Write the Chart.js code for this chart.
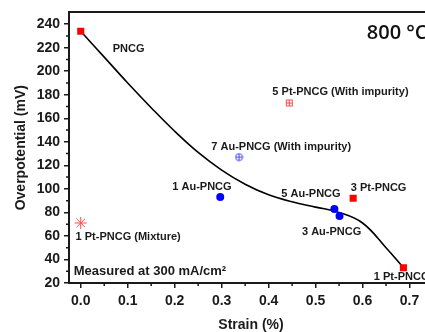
<!DOCTYPE html>
<html>
<head>
<meta charset="utf-8">
<script src="https://cdn.jsdelivr.net/npm/chart.js@4.4.0/dist/chart.umd.min.js"></script>
<style>
    html, body { margin: 0; padding: 0; background: #fff; overflow: hidden; }
    #wrap { width: 425px; height: 332px; overflow: hidden; }
</style>
</head>
<body>
<div id="wrap"><canvas id="chart" width="440" height="332"></canvas></div>
<script>
// Fitted trend line
const curveX = [0, 0.05, 0.1, 0.15, 0.2, 0.25, 0.3, 0.35, 0.4, 0.45, 0.5, 0.55, 0.6, 0.65, 0.687];
const curveY = [234, 212, 190, 169, 149, 131, 116, 104, 95, 89, 84.5, 80, 71, 50, 33];

// Pt samples (solid red squares): PNCG, 3 Pt-PNCG, 1 Pt-PNCG
const ptX = [0.0, 0.580, 0.687];
const ptY = [234, 92, 33];

// Au samples (solid blue circles): 1 Au, 5 Au, 3 Au
const auX = [0.297, 0.540, 0.551];
const auY = [93, 83, 77];

// samples with impurity / mixture
const ptImpX = [0.444];
const ptImpY = [173];
const auImpX = [0.337];
const auImpY = [127];
const mixX = [0.0];
const mixY = [71];

const xTicks = [0, 0.1, 0.2, 0.3, 0.4, 0.5, 0.6, 0.7];
const yTicks = [20, 40, 60, 80, 100, 120, 140, 160, 180, 200, 220, 240];

const ink = '#1a1a1a';
const fontFam = '"Liberation Sans", Arial, sans-serif';

function pts(xs, ys) {
    return xs.map((x, i) => ({ x: x, y: ys[i] }));
}

// small crosshair marker icons
function crossIcon(color, shape) {
    const c = document.createElement('canvas');
    c.width = 9; c.height = 9;
    const g = c.getContext('2d');
    g.strokeStyle = color;
    g.lineWidth = 1;
    if (shape === 'rect') {
        g.strokeRect(1.5, 1.5, 6, 6);
    } else {
        g.beginPath();
        g.arc(4.5, 4.5, 3.5, 0, Math.PI * 2);
        g.stroke();
    }
    g.beginPath();
    g.moveTo(4.5, 1); g.lineTo(4.5, 8);
    g.moveTo(1, 4.5); g.lineTo(8, 4.5);
    g.stroke();
    return c;
}

// text annotations, positioned in axis units
const notes = [
    { text: 'PNCG', x: 0.068, y: 219 },
    { text: '5 Pt-PNCG (With impurity)', x: 0.408, y: 182 },
    { text: '7 Au-PNCG (With impurity)', x: 0.278, y: 136 },
    { text: '1 Au-PNCG', x: 0.195, y: 102 },
    { text: '5 Au-PNCG', x: 0.427, y: 96 },
    { text: '3 Pt-PNCG', x: 0.575, y: 101 },
    { text: '3 Au-PNCG', x: 0.471, y: 63 },
    { text: '1 Pt-PNCG', x: 0.624, y: 25 },
    { text: '1 Pt-PNCG (Mixture)', x: -0.011, y: 59 }
];

const extras = {
    id: 'extras',
    afterDraw(chart) {
        const ctx = chart.ctx;
        const x = chart.scales.x;
        const y = chart.scales.y;
        ctx.save();

        // minor ticks
        ctx.strokeStyle = ink;
        ctx.lineWidth = 1.5;
        ctx.beginPath();
        xTicks.forEach(t => {
            const v = t + 0.05;
            if (v < x.max) {
                const px = x.getPixelForValue(v);
                ctx.moveTo(px, y.bottom);
                ctx.lineTo(px, y.bottom + 3);
            }
        });
        yTicks.forEach(t => {
            const v = t + 10;
            if (v < y.max) {
                const py = y.getPixelForValue(v);
                ctx.moveTo(x.left, py);
                ctx.lineTo(x.left - 3, py);
            }
        });
        ctx.stroke();

        // sample labels
        ctx.fillStyle = ink;
        ctx.textBaseline = 'middle';
        ctx.textAlign = 'left';
        ctx.font = 'bold 11px ' + fontFam;
        notes.forEach(n => {
            ctx.fillText(n.text, x.getPixelForValue(n.x), y.getPixelForValue(n.y));
        });

        ctx.font = 'bold 13px ' + fontFam;
        ctx.fillText('Measured at 300 mA/cm²', x.getPixelForValue(-0.015), y.getPixelForValue(29.5));

        ctx.font = '600 20px "Open Sans", sans-serif';
        ctx.fillStyle = '#111';
        ctx.fillText('800 °C', x.getPixelForValue(0.609), y.getPixelForValue(232.5));
        ctx.restore();
    }
};

const axisLine = { display: true, color: ink, width: 2 };

new Chart(document.getElementById('chart'), {
    type: 'scatter',
    data: {
        datasets: [
            {
                data: pts(curveX, curveY),
                showLine: true,
                borderColor: '#000',
                borderWidth: 1.6,
                pointRadius: 0,
                tension: 0.4,
                order: 5
            },
            {
                data: pts(ptX, ptY),
                pointStyle: 'rect',
                pointRadius: 5,
                backgroundColor: '#ff0000',
                borderColor: '#ff0000',
                borderWidth: 0
            },
            {
                data: pts(auX, auY),
                pointStyle: 'circle',
                pointRadius: 4,
                backgroundColor: '#0000ff',
                borderColor: '#0000ff',
                borderWidth: 0
            },
            {
                data: pts(ptImpX, ptImpY),
                pointStyle: crossIcon('#ff4a4a', 'rect')
            },
            {
                data: pts(auImpX, auImpY),
                pointStyle: crossIcon('#4a4aff', 'circle')
            },
            {
                data: pts(mixX, mixY),
                pointStyle: 'star',
                pointRadius: 6,
                borderColor: '#ff4d4d',
                borderWidth: 1
            }
        ]
    },
    options: {
        responsive: false,
        animation: false,
        devicePixelRatio: 1,
        layout: { padding: { top: 11, right: 5, bottom: 0, left: 0 } },
        plugins: {
            legend: { display: false },
            tooltip: { enabled: false }
        },
        scales: {
            x: {
                type: 'linear',
                position: 'bottom',
                min: -0.025,
                max: 0.75,
                afterBuildTicks: s => { s.ticks = xTicks.map(v => ({ value: v })); },
                afterFit: s => { s.height = 49; },
                border: axisLine,
                grid: { drawOnChartArea: false, drawTicks: true, tickLength: 5, color: ink, lineWidth: 1.5 },
                ticks: {
                    color: ink,
                    padding: 5,
                    maxRotation: 0,
                    font: { family: fontFam, size: 14, weight: 'bold' },
                    callback: v => v.toFixed(1)
                },
                title: {
                    display: true,
                    text: 'Strain (%)',
                    color: ink,
                    padding: { top: 0, bottom: 0 },
                    font: { family: fontFam, size: 14, weight: 'bold', lineHeight: 1 }
                }
            },
            xTop: {
                type: 'linear',
                position: 'top',
                min: -0.025,
                max: 0.75,
                display: true,
                afterFit: s => { s.height = 0; },
                border: axisLine,
                grid: { display: false },
                ticks: { display: false }
            },
            y: {
                type: 'linear',
                min: 20,
                max: 250,
                afterBuildTicks: s => { s.ticks = yTicks.map(v => ({ value: v })); },
                afterFit: s => { s.width = 69; },
                border: axisLine,
                grid: { drawOnChartArea: false, drawTicks: true, tickLength: 5, color: ink, lineWidth: 1.5 },
                ticks: {
                    color: ink,
                    padding: 4,
                    font: { family: fontFam, size: 14, weight: 'bold' }
                },
                title: {
                    display: true,
                    text: 'Overpotential (mV)',
                    color: ink,
                    padding: { top: 13, bottom: 0 },
                    font: { family: fontFam, size: 14, weight: 'bold' }
                }
            }
        }
    },
    plugins: [extras]
});
</script>
</body>
</html>
